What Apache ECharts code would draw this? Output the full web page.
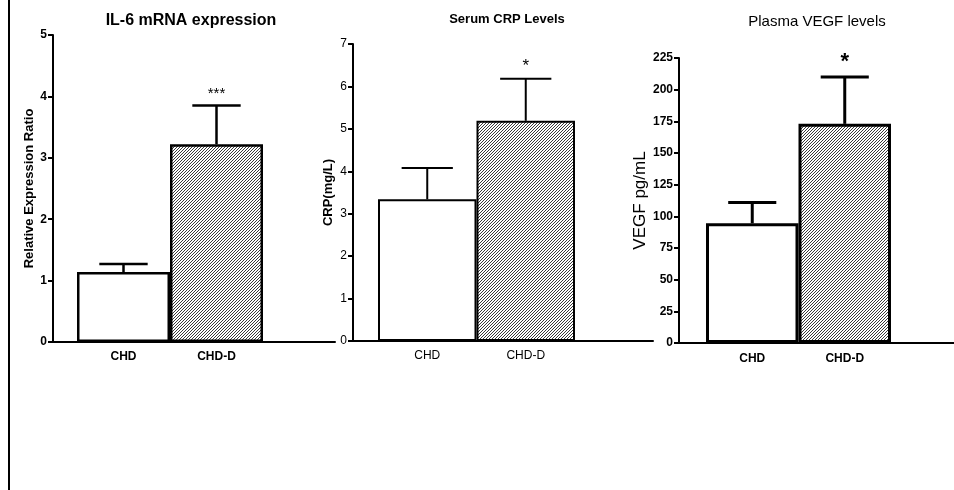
<!DOCTYPE html>
<html>
<head>
<meta charset="utf-8">
<script src="https://cdn.jsdelivr.net/npm/echarts@6/dist/echarts.min.js"></script>
<style>
    html, body {margin: 0; padding: 0; background: #fff;}
    #main {width: 954px; height: 490px;}
</style>
</head>
<body>
<div id="main"></div>
<script>
//数据
var categories = ['CHD', 'CHD-D'];

var il6Mean = [1.14, 3.22];
var il6Upper = [1.27, 3.85];
var il6Stars = ['', '***'];
var il6Ticks = [0, 5, 1];

var crpMean = [3.34, 5.19];
var crpUpper = [4.08, 6.18];
var crpStars = ['', '*'];
var crpTicks = [0, 7, 1];

var vegfMean = [94.5, 173];
var vegfUpper = [111, 210];
var vegfStars = ['', '*'];
var vegfTicks = [0, 225, 25];

var FONT = "'Liberation Sans', Arial, sans-serif";

//斜线填充
function hatch() {
    var c = document.createElement('canvas');
    c.width = 3;
    c.height = 3;
    var ctx = c.getContext('2d');
    ctx.fillStyle = '#fff';
    ctx.fillRect(0, 0, 3, 3);
    ctx.fillStyle = '#3a3a3a';
    ctx.fillRect(0, 2, 1, 1);
    ctx.fillRect(1, 1, 1, 1);
    ctx.fillRect(2, 0, 1, 1);
    return {image: c, repeat: 'repeat'};
}
var hatchFill = hatch();

//每个面板的布局
var panels = [
    {title: 'IL-6 mRNA expression', titleX: 186, titleY: 8, titleSize: 16, titleWeight: 'bold',
        axisLeft: 53, axisWidth: 282, barLeft: 77, barWidth: 186, top: 35, height: 307,
        name: 'Relative Expression Ratio', nameSize: 13, nameWeight: 'bold', nameGap: 17,
        tickSize: 12, tickWeight: 'bold', catWeight: 'bold', catMargin: 9,
        line: 2.5, starSize: 15, starWeight: 'normal',
        mean: il6Mean, upper: il6Upper, stars: il6Stars, ticks: il6Ticks},
    {title: 'Serum CRP Levels', titleX: 502, titleY: 8, titleSize: 13, titleWeight: 'bold',
        axisLeft: 353, axisWidth: 300, barLeft: 378, barWidth: 197, top: 44, height: 297,
        name: 'CRP(mg/L)', nameSize: 13, nameWeight: 'bold', nameGap: 18,
        tickSize: 12, tickWeight: 'normal', catWeight: 'normal', catMargin: 9,
        line: 2, starSize: 17, starWeight: 'normal',
        mean: crpMean, upper: crpUpper, stars: crpStars, ticks: crpTicks},
    {title: 'Plasma VEGF levels', titleX: 812, titleY: 9, titleSize: 15, titleWeight: 'normal',
        axisLeft: 679, axisWidth: 275, barLeft: 706, barWidth: 185, top: 58, height: 285,
        name: 'VEGF pg/mL', nameSize: 17, nameWeight: 'normal', nameGap: 29,
        tickSize: 12, tickWeight: 'bold', catWeight: 'bold', catMargin: 10,
        line: 3, starSize: 22, starWeight: 'bold',
        mean: vegfMean, upper: vegfUpper, stars: vegfStars, ticks: vegfTicks}
];

var option = {
    animation: false,
    backgroundColor: '#fff',
    title: [],
    grid: [],
    xAxis: [],
    yAxis: [],
    series: [],
    graphic: [{
        type: 'line',
        shape: {x1: 9, y1: 0, x2: 9, y2: 490},
        style: {stroke: '#000', lineWidth: 2}
    }]
};

panels.forEach(function (p, i) {
    var g0 = i * 2, g1 = i * 2 + 1;
    option.title.push({
        text: p.title, left: p.titleX, top: p.titleY, textAlign: 'center',
        textStyle: {fontFamily: FONT, fontSize: p.titleSize, fontWeight: p.titleWeight, color: '#000'}
    });
    //坐标轴网格
    option.grid.push({left: p.axisLeft, top: p.top, width: p.axisWidth, height: p.height});
    //柱子网格
    option.grid.push({left: p.barLeft, top: p.top, width: p.barWidth, height: p.height});

    option.xAxis.push({
        gridIndex: g0, type: 'value', min: 0, max: 1,
        axisLine: {show: true, onZero: false, lineStyle: {color: '#000', width: 2}},
        axisTick: {show: false}, axisLabel: {show: false}, splitLine: {show: false}
    });
    option.xAxis.push({
        gridIndex: g1, type: 'category', data: categories,
        axisLine: {show: false}, axisTick: {show: false}, splitLine: {show: false},
        axisLabel: {margin: p.catMargin, color: '#000', fontFamily: FONT, fontSize: 12, fontWeight: p.catWeight}
    });

    option.yAxis.push({
        gridIndex: g0, type: 'value', min: p.ticks[0], max: p.ticks[1], interval: p.ticks[2],
        name: p.name, nameLocation: 'middle', nameGap: p.nameGap,
        nameTextStyle: {fontFamily: FONT, fontSize: p.nameSize, fontWeight: p.nameWeight, color: '#000'},
        axisLine: {show: true, lineStyle: {color: '#000', width: 2}},
        axisTick: {show: true, length: 5, lineStyle: {color: '#000', width: 2}},
        axisLabel: {margin: 6, color: '#000', fontFamily: FONT, fontSize: p.tickSize, fontWeight: p.tickWeight},
        splitLine: {show: false}
    });
    option.yAxis.push({
        gridIndex: g1, type: 'value', min: p.ticks[0], max: p.ticks[1], interval: p.ticks[2],
        show: false, splitLine: {show: false}
    });

    option.series.push({
        type: 'bar', xAxisIndex: g1, yAxisIndex: g1,
        barWidth: '100%', barCategoryGap: '0%',
        data: p.mean.map(function (v, k) {
            return {
                value: v,
                itemStyle: {color: k === 0 ? '#fff' : hatchFill, borderColor: '#000', borderWidth: p.line}
            };
        })
    });

    //误差线和星号
    option.series.push({
        type: 'custom', xAxisIndex: g1, yAxisIndex: g1, z: 3,
        data: p.mean.map(function (v, k) {
            return [k, v, p.upper[k]];
        }),
        renderItem: function (params, api) {
            var k = api.value(0);
            var a = api.coord([k, api.value(1)]);
            var b = api.coord([k, api.value(2)]);
            var half = api.size([1, 0])[0] * 0.26;
            var children = [
                {type: 'line', shape: {x1: a[0], y1: a[1], x2: b[0], y2: b[1]}, style: {stroke: '#000', lineWidth: p.line}},
                {type: 'line', shape: {x1: b[0] - half, y1: b[1], x2: b[0] + half, y2: b[1]}, style: {stroke: '#000', lineWidth: p.line}}
            ];
            if (p.stars[k]) {
                children.push({
                    type: 'text',
                    style: {
                        x: b[0], y: b[1] - 4, text: p.stars[k], align: 'center', verticalAlign: 'bottom',
                        font: p.starWeight + ' ' + p.starSize + 'px ' + FONT, fill: '#000'
                    }
                });
            }
            return {type: 'group', children: children};
        }
    });
});

var myChart = echarts.init(document.getElementById('main'));
myChart.setOption(option);
</script>
</body>
</html>
